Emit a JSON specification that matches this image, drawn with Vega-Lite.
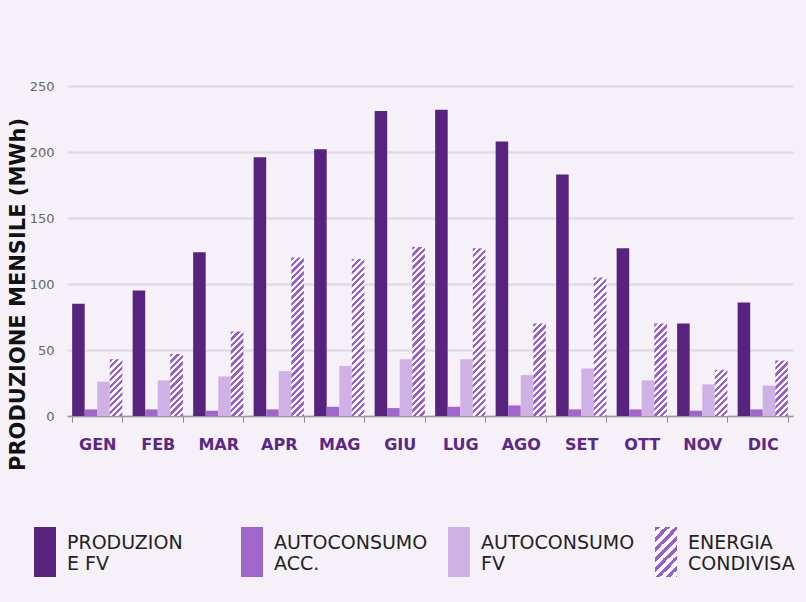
{
  "$schema": "https://vega.github.io/schema/vega-lite/v6.json",
  "width": 726,
  "height": 330,
  "autosize": {"type": "none"},
  "padding": {"left": 67, "top": 86, "right": 13, "bottom": 186},
  "background": "#f6f1f8",
  "params": [
    {"name": "hatch", "value": [
{"offset":0,"color":"#9a5ecf"},{"offset":0.0125,"color":"#9a5ecf"},{"offset":0.0125,"color":"#ffffff"},{"offset":0.025,"color":"#ffffff"},
{"offset":0.025,"color":"#9a5ecf"},{"offset":0.0375,"color":"#9a5ecf"},{"offset":0.0375,"color":"#ffffff"},{"offset":0.05,"color":"#ffffff"},
{"offset":0.05,"color":"#9a5ecf"},{"offset":0.0625,"color":"#9a5ecf"},{"offset":0.0625,"color":"#ffffff"},{"offset":0.075,"color":"#ffffff"},
{"offset":0.075,"color":"#9a5ecf"},{"offset":0.0875,"color":"#9a5ecf"},{"offset":0.0875,"color":"#ffffff"},{"offset":0.1,"color":"#ffffff"},
{"offset":0.1,"color":"#9a5ecf"},{"offset":0.1125,"color":"#9a5ecf"},{"offset":0.1125,"color":"#ffffff"},{"offset":0.125,"color":"#ffffff"},
{"offset":0.125,"color":"#9a5ecf"},{"offset":0.1375,"color":"#9a5ecf"},{"offset":0.1375,"color":"#ffffff"},{"offset":0.15,"color":"#ffffff"},
{"offset":0.15,"color":"#9a5ecf"},{"offset":0.1625,"color":"#9a5ecf"},{"offset":0.1625,"color":"#ffffff"},{"offset":0.175,"color":"#ffffff"},
{"offset":0.175,"color":"#9a5ecf"},{"offset":0.1875,"color":"#9a5ecf"},{"offset":0.1875,"color":"#ffffff"},{"offset":0.2,"color":"#ffffff"},
{"offset":0.2,"color":"#9a5ecf"},{"offset":0.2125,"color":"#9a5ecf"},{"offset":0.2125,"color":"#ffffff"},{"offset":0.225,"color":"#ffffff"},
{"offset":0.225,"color":"#9a5ecf"},{"offset":0.2375,"color":"#9a5ecf"},{"offset":0.2375,"color":"#ffffff"},{"offset":0.25,"color":"#ffffff"},
{"offset":0.25,"color":"#9a5ecf"},{"offset":0.2625,"color":"#9a5ecf"},{"offset":0.2625,"color":"#ffffff"},{"offset":0.275,"color":"#ffffff"},
{"offset":0.275,"color":"#9a5ecf"},{"offset":0.2875,"color":"#9a5ecf"},{"offset":0.2875,"color":"#ffffff"},{"offset":0.3,"color":"#ffffff"},
{"offset":0.3,"color":"#9a5ecf"},{"offset":0.3125,"color":"#9a5ecf"},{"offset":0.3125,"color":"#ffffff"},{"offset":0.325,"color":"#ffffff"},
{"offset":0.325,"color":"#9a5ecf"},{"offset":0.3375,"color":"#9a5ecf"},{"offset":0.3375,"color":"#ffffff"},{"offset":0.35,"color":"#ffffff"},
{"offset":0.35,"color":"#9a5ecf"},{"offset":0.3625,"color":"#9a5ecf"},{"offset":0.3625,"color":"#ffffff"},{"offset":0.375,"color":"#ffffff"},
{"offset":0.375,"color":"#9a5ecf"},{"offset":0.3875,"color":"#9a5ecf"},{"offset":0.3875,"color":"#ffffff"},{"offset":0.4,"color":"#ffffff"},
{"offset":0.4,"color":"#9a5ecf"},{"offset":0.4125,"color":"#9a5ecf"},{"offset":0.4125,"color":"#ffffff"},{"offset":0.425,"color":"#ffffff"},
{"offset":0.425,"color":"#9a5ecf"},{"offset":0.4375,"color":"#9a5ecf"},{"offset":0.4375,"color":"#ffffff"},{"offset":0.45,"color":"#ffffff"},
{"offset":0.45,"color":"#9a5ecf"},{"offset":0.4625,"color":"#9a5ecf"},{"offset":0.4625,"color":"#ffffff"},{"offset":0.475,"color":"#ffffff"},
{"offset":0.475,"color":"#9a5ecf"},{"offset":0.4875,"color":"#9a5ecf"},{"offset":0.4875,"color":"#ffffff"},{"offset":0.5,"color":"#ffffff"},
{"offset":0.5,"color":"#9a5ecf"},{"offset":0.5125,"color":"#9a5ecf"},{"offset":0.5125,"color":"#ffffff"},{"offset":0.525,"color":"#ffffff"},
{"offset":0.525,"color":"#9a5ecf"},{"offset":0.5375,"color":"#9a5ecf"},{"offset":0.5375,"color":"#ffffff"},{"offset":0.55,"color":"#ffffff"},
{"offset":0.55,"color":"#9a5ecf"},{"offset":0.5625,"color":"#9a5ecf"},{"offset":0.5625,"color":"#ffffff"},{"offset":0.575,"color":"#ffffff"},
{"offset":0.575,"color":"#9a5ecf"},{"offset":0.5875,"color":"#9a5ecf"},{"offset":0.5875,"color":"#ffffff"},{"offset":0.6,"color":"#ffffff"},
{"offset":0.6,"color":"#9a5ecf"},{"offset":0.6125,"color":"#9a5ecf"},{"offset":0.6125,"color":"#ffffff"},{"offset":0.625,"color":"#ffffff"},
{"offset":0.625,"color":"#9a5ecf"},{"offset":0.6375,"color":"#9a5ecf"},{"offset":0.6375,"color":"#ffffff"},{"offset":0.65,"color":"#ffffff"},
{"offset":0.65,"color":"#9a5ecf"},{"offset":0.6625,"color":"#9a5ecf"},{"offset":0.6625,"color":"#ffffff"},{"offset":0.675,"color":"#ffffff"},
{"offset":0.675,"color":"#9a5ecf"},{"offset":0.6875,"color":"#9a5ecf"},{"offset":0.6875,"color":"#ffffff"},{"offset":0.7,"color":"#ffffff"},
{"offset":0.7,"color":"#9a5ecf"},{"offset":0.7125,"color":"#9a5ecf"},{"offset":0.7125,"color":"#ffffff"},{"offset":0.725,"color":"#ffffff"},
{"offset":0.725,"color":"#9a5ecf"},{"offset":0.7375,"color":"#9a5ecf"},{"offset":0.7375,"color":"#ffffff"},{"offset":0.75,"color":"#ffffff"},
{"offset":0.75,"color":"#9a5ecf"},{"offset":0.7625,"color":"#9a5ecf"},{"offset":0.7625,"color":"#ffffff"},{"offset":0.775,"color":"#ffffff"},
{"offset":0.775,"color":"#9a5ecf"},{"offset":0.7875,"color":"#9a5ecf"},{"offset":0.7875,"color":"#ffffff"},{"offset":0.8,"color":"#ffffff"},
{"offset":0.8,"color":"#9a5ecf"},{"offset":0.8125,"color":"#9a5ecf"},{"offset":0.8125,"color":"#ffffff"},{"offset":0.825,"color":"#ffffff"},
{"offset":0.825,"color":"#9a5ecf"},{"offset":0.8375,"color":"#9a5ecf"},{"offset":0.8375,"color":"#ffffff"},{"offset":0.85,"color":"#ffffff"},
{"offset":0.85,"color":"#9a5ecf"},{"offset":0.8625,"color":"#9a5ecf"},{"offset":0.8625,"color":"#ffffff"},{"offset":0.875,"color":"#ffffff"},
{"offset":0.875,"color":"#9a5ecf"},{"offset":0.8875,"color":"#9a5ecf"},{"offset":0.8875,"color":"#ffffff"},{"offset":0.9,"color":"#ffffff"},
{"offset":0.9,"color":"#9a5ecf"},{"offset":0.9125,"color":"#9a5ecf"},{"offset":0.9125,"color":"#ffffff"},{"offset":0.925,"color":"#ffffff"},
{"offset":0.925,"color":"#9a5ecf"},{"offset":0.9375,"color":"#9a5ecf"},{"offset":0.9375,"color":"#ffffff"},{"offset":0.95,"color":"#ffffff"},
{"offset":0.95,"color":"#9a5ecf"},{"offset":0.9625,"color":"#9a5ecf"},{"offset":0.9625,"color":"#ffffff"},{"offset":0.975,"color":"#ffffff"},
{"offset":0.975,"color":"#9a5ecf"},{"offset":0.9875,"color":"#9a5ecf"},{"offset":0.9875,"color":"#ffffff"},{"offset":1,"color":"#ffffff"}
    ]}
  ],
  "data": {
    "values": [
      {"Mese":"GEN","Serie":"PRODUZIONE FV","Valore":85},{"Mese":"GEN","Serie":"AUTOCONSUMO ACC.","Valore":5},{"Mese":"GEN","Serie":"AUTOCONSUMO FV","Valore":26},{"Mese":"GEN","Serie":"ENERGIA CONDIVISA","Valore":43},
      {"Mese":"FEB","Serie":"PRODUZIONE FV","Valore":95},{"Mese":"FEB","Serie":"AUTOCONSUMO ACC.","Valore":5},{"Mese":"FEB","Serie":"AUTOCONSUMO FV","Valore":27},{"Mese":"FEB","Serie":"ENERGIA CONDIVISA","Valore":47},
      {"Mese":"MAR","Serie":"PRODUZIONE FV","Valore":124},{"Mese":"MAR","Serie":"AUTOCONSUMO ACC.","Valore":4},{"Mese":"MAR","Serie":"AUTOCONSUMO FV","Valore":30},{"Mese":"MAR","Serie":"ENERGIA CONDIVISA","Valore":64},
      {"Mese":"APR","Serie":"PRODUZIONE FV","Valore":196},{"Mese":"APR","Serie":"AUTOCONSUMO ACC.","Valore":5},{"Mese":"APR","Serie":"AUTOCONSUMO FV","Valore":34},{"Mese":"APR","Serie":"ENERGIA CONDIVISA","Valore":120},
      {"Mese":"MAG","Serie":"PRODUZIONE FV","Valore":202},{"Mese":"MAG","Serie":"AUTOCONSUMO ACC.","Valore":7},{"Mese":"MAG","Serie":"AUTOCONSUMO FV","Valore":38},{"Mese":"MAG","Serie":"ENERGIA CONDIVISA","Valore":119},
      {"Mese":"GIU","Serie":"PRODUZIONE FV","Valore":231},{"Mese":"GIU","Serie":"AUTOCONSUMO ACC.","Valore":6},{"Mese":"GIU","Serie":"AUTOCONSUMO FV","Valore":43},{"Mese":"GIU","Serie":"ENERGIA CONDIVISA","Valore":128},
      {"Mese":"LUG","Serie":"PRODUZIONE FV","Valore":232},{"Mese":"LUG","Serie":"AUTOCONSUMO ACC.","Valore":7},{"Mese":"LUG","Serie":"AUTOCONSUMO FV","Valore":43},{"Mese":"LUG","Serie":"ENERGIA CONDIVISA","Valore":127},
      {"Mese":"AGO","Serie":"PRODUZIONE FV","Valore":208},{"Mese":"AGO","Serie":"AUTOCONSUMO ACC.","Valore":8},{"Mese":"AGO","Serie":"AUTOCONSUMO FV","Valore":31},{"Mese":"AGO","Serie":"ENERGIA CONDIVISA","Valore":70},
      {"Mese":"SET","Serie":"PRODUZIONE FV","Valore":183},{"Mese":"SET","Serie":"AUTOCONSUMO ACC.","Valore":5},{"Mese":"SET","Serie":"AUTOCONSUMO FV","Valore":36},{"Mese":"SET","Serie":"ENERGIA CONDIVISA","Valore":105},
      {"Mese":"OTT","Serie":"PRODUZIONE FV","Valore":127},{"Mese":"OTT","Serie":"AUTOCONSUMO ACC.","Valore":5},{"Mese":"OTT","Serie":"AUTOCONSUMO FV","Valore":27},{"Mese":"OTT","Serie":"ENERGIA CONDIVISA","Valore":70},
      {"Mese":"NOV","Serie":"PRODUZIONE FV","Valore":70},{"Mese":"NOV","Serie":"AUTOCONSUMO ACC.","Valore":4},{"Mese":"NOV","Serie":"AUTOCONSUMO FV","Valore":24},{"Mese":"NOV","Serie":"ENERGIA CONDIVISA","Valore":35},
      {"Mese":"DIC","Serie":"PRODUZIONE FV","Valore":86},{"Mese":"DIC","Serie":"AUTOCONSUMO ACC.","Valore":5},{"Mese":"DIC","Serie":"AUTOCONSUMO FV","Valore":23},{"Mese":"DIC","Serie":"ENERGIA CONDIVISA","Valore":42}
    ]
  },
  "encoding": {
    "x": {
      "field": "Mese", "type": "nominal", "sort": null,
      "scale": {"paddingInner": 0.17, "paddingOuter": 0.085},
      "axis": {
        "title": null, "labelAngle": 0, "labelFont": "DejaVu Sans", "labelFontWeight": "bold",
        "labelFontSize": 16, "labelColor": "#5b2887", "labelPadding": 14,
        "tickBand": "extent", "tickSize": 6, "tickColor": "#8a8a8a", "tickWidth": 1,
        "domainColor": "#9a9a9a", "domainWidth": 1.5, "grid": false
      }
    },
    "xOffset": {
      "field": "Serie", "type": "nominal",
      "scale": {"domain": ["PRODUZIONE FV", "AUTOCONSUMO ACC.", "AUTOCONSUMO FV", "ENERGIA CONDIVISA"], "paddingInner": 0, "paddingOuter": 0}
    },
    "y": {
      "field": "Valore", "type": "quantitative", "stack": null,
      "scale": {"domain": [0, 250], "nice": false},
      "axis": {
        "title": "PRODUZIONE MENSILE (MWh)", "values": [0, 50, 100, 150, 200, 250],
        "titleFont": "DejaVu Sans", "titleFontWeight": "bold", "titleFontSize": 21, "titleColor": "#111111",
        "titleAngle": 270, "titleBaseline": "middle", "titleAlign": "center", "titleX": -49, "titleY": 208,
        "labelFont": "DejaVu Sans", "labelFontSize": 13, "labelColor": "#666666", "labelPadding": 13,
        "ticks": false, "domain": false,
        "gridColor": "#e1dce4", "gridWidth": 2.5
      }
    }
  },
  "layer": [
    {
      "transform": [{"filter": "datum.Serie != 'ENERGIA CONDIVISA'"}],
      "mark": {"type": "bar", "strokeWidth": 0},
      "encoding": {
        "color": {
          "field": "Serie", "type": "nominal",
          "scale": {"domain": ["PRODUZIONE FV", "AUTOCONSUMO ACC.", "AUTOCONSUMO FV", "ENERGIA CONDIVISA"],
                    "range": ["#58237f", "#a066cc", "#cfb1e6", {"expr": "{gradient: 'linear', x1: 0, y1: 0, x2: 22 * 400 / 2984, y2: 50 * 400 / 2984, stops: hatch}"}]},
          "legend": {
            "title": null, "orient": "none", "legendX": -47, "legendY": 441, "direction": "horizontal", "columns": 4,
            "gridAlign": "all", "columnPadding": 6,
            "symbolType": "M-0.44,-1h0.88v2h-0.88Z", "symbolSize": 2500, "symbolStrokeWidth": 0, "symbolOpacity": 1,
            "labelFont": "DejaVu Sans", "labelFontSize": 19, "labelColor": "#222222", "labelOffset": -3, "labelLimit": 300,
            "labelBaseline": "middle",
            "labelExpr": "datum.label == 'PRODUZIONE FV' ? ['PRODUZION', 'E FV'] : datum.label == 'AUTOCONSUMO ACC.' ? ['AUTOCONSUMO', 'ACC.'] : datum.label == 'AUTOCONSUMO FV' ? ['AUTOCONSUMO', 'FV'] : ['ENERGIA', 'CONDIVISA']",
            "encode": {
              "labels": {"update": {"lineHeight": {"value": 21}, "dy": {"value": -9}}}
            }
          }
        }
      }
    },
    {
      "transform": [{"filter": "datum.Serie == 'ENERGIA CONDIVISA'"}],
      "mark": {"type": "bar", "strokeWidth": 0},
      "encoding": {
        "fill": {"value": {"expr": "{gradient: 'linear', x1: 0, y1: 0, x2: bandwidth('xOffset') * 260 / (pow(bandwidth('xOffset'), 2) + pow(scale('y', 0) - scale('y', datum.Valore), 2)), y2: (scale('y', 0) - scale('y', datum.Valore)) * 260 / (pow(bandwidth('xOffset'), 2) + pow(scale('y', 0) - scale('y', datum.Valore), 2)), stops: hatch}"}}
      }
    }
  ],
  "config": {"view": {"stroke": null}}
}
